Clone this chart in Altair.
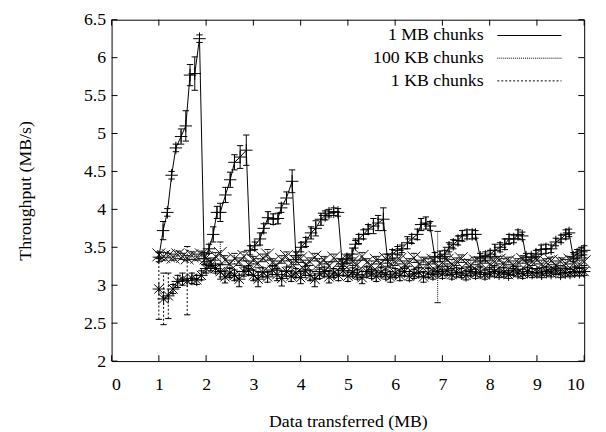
import altair as alt
import pandas as pd

FONT = "Liberation Serif, Times New Roman, Times, serif"
FS = 18

# ---------------- data ----------------
x_ticks = [0, 1, 2, 3, 4, 5, 6, 7, 8, 9, 10]
y_ticks = [2, 2.5, 3, 3.5, 4, 4.5, 5, 5.5, 6, 6.5]
legend_labels = ["1 MB chunks", "100 KB chunks", "1 KB chunks"]

x_1mb = [1.00, 1.09, 1.18, 1.27, 1.36, 1.47, 1.57, 1.66, 1.76, 1.86,
         1.96, 2.06, 2.15, 2.23, 2.30, 2.41, 2.51, 2.60, 2.72, 2.85,
         2.93, 3.03, 3.14, 3.22, 3.31, 3.42, 3.52, 3.59, 3.70, 3.82,
         3.90, 4.01, 4.11, 4.22, 4.32, 4.43, 4.52, 4.60, 4.70, 4.79,
         4.88, 4.98, 5.09, 5.16, 5.23, 5.33, 5.43, 5.54, 5.64, 5.75,
         5.84, 5.94, 6.05, 6.14, 6.26, 6.35, 6.47, 6.55, 6.65, 6.74,
         6.84, 6.95, 7.05, 7.14, 7.23, 7.33, 7.42, 7.52, 7.63, 7.70,
         7.80, 7.91, 8.01, 8.11, 8.22, 8.32, 8.41, 8.51, 8.60, 8.69,
         8.77, 8.88, 8.98, 9.09, 9.19, 9.30, 9.40, 9.51, 9.61, 9.68,
         9.77, 9.85, 9.94, 10.00]
y_1mb = [3.37, 3.72, 3.96, 4.45, 4.81, 4.96, 5.10, 5.77, 5.79, 6.25,
         3.35, 3.48, 3.67, 3.96, 3.96, 4.19, 4.39, 4.62, 4.69, 4.78,
         3.46, 3.52, 3.61, 3.75, 3.89, 3.87, 3.88, 4.02, 4.15, 4.37,
         3.39, 3.50, 3.57, 3.69, 3.75, 3.87, 3.92, 3.95, 3.97, 3.96,
         3.28, 3.35, 3.41, 3.54, 3.61, 3.67, 3.74, 3.78, 3.82, 3.87,
         3.33, 3.41, 3.46, 3.48, 3.56, 3.61, 3.67, 3.80, 3.82, 3.78,
         3.37, 3.38, 3.41, 3.50, 3.54, 3.59, 3.65, 3.67, 3.67, 3.67,
         3.37, 3.38, 3.41, 3.46, 3.50, 3.54, 3.61, 3.61, 3.67, 3.65,
         3.37, 3.37, 3.41, 3.47, 3.48, 3.48, 3.57, 3.61, 3.67, 3.69,
         3.37, 3.41, 3.44, 3.46]
e_1mb = [0.06, 0.12, 0.05, 0.05, 0.05, 0.10, 0.20, 0.14, 0.22, 0.05,
         0.08, 0.06, 0.10, 0.08, 0.12, 0.10, 0.10, 0.10, 0.15, 0.20,
         0.06, 0.05, 0.08, 0.06, 0.08, 0.07, 0.07, 0.06, 0.08, 0.15,
         0.05, 0.06, 0.06, 0.08, 0.10, 0.08, 0.06, 0.05, 0.05, 0.05,
         0.06, 0.06, 0.08, 0.05, 0.06, 0.06, 0.06, 0.10, 0.10, 0.15,
         0.08, 0.06, 0.05, 0.05, 0.08, 0.06, 0.07, 0.08, 0.08, 0.06,
         0.06, 0.07, 0.05, 0.06, 0.06, 0.06, 0.07, 0.06, 0.06, 0.05,
         0.05, 0.06, 0.05, 0.08, 0.06, 0.07, 0.06, 0.05, 0.06, 0.05,
         0.05, 0.05, 0.05, 0.06, 0.06, 0.05, 0.05, 0.05, 0.06, 0.05,
         0.06, 0.06, 0.05, 0.06]

x_grid = [1.0, 1.1, 1.2, 1.3, 1.4, 1.5, 1.6, 1.7, 1.8, 1.9,
          2.0, 2.1, 2.2, 2.3, 2.4, 2.5, 2.6, 2.7, 2.8, 2.9,
          3.0, 3.1, 3.2, 3.3, 3.4, 3.5, 3.6, 3.7, 3.8, 3.9,
          4.0, 4.1, 4.2, 4.3, 4.4, 4.5, 4.6, 4.7, 4.8, 4.9,
          5.0, 5.1, 5.2, 5.3, 5.4, 5.5, 5.6, 5.7, 5.8, 5.9,
          6.0, 6.1, 6.2, 6.3, 6.4, 6.5, 6.6, 6.7, 6.8, 6.9,
          7.0, 7.1, 7.2, 7.3, 7.4, 7.5, 7.6, 7.7, 7.8, 7.9,
          8.0, 8.1, 8.2, 8.3, 8.4, 8.5, 8.6, 8.7, 8.8, 8.9,
          9.0, 9.1, 9.2, 9.3, 9.4, 9.5, 9.6, 9.7, 9.8, 9.9,
          10.0]

y_100kb = [3.40, 3.38, 3.39, 3.37, 3.40, 3.38, 3.36, 3.39, 3.37, 3.40,
           3.36, 3.30, 3.38, 3.42, 3.33, 3.28, 3.35, 3.31, 3.38, 3.27,
           3.33, 3.29, 3.36, 3.40, 3.30, 3.26, 3.34, 3.38, 3.29, 3.32,
           3.35, 3.27, 3.31, 3.37, 3.29, 3.33, 3.25, 3.36, 3.30, 3.28,
           3.34, 3.31, 3.27, 3.38, 3.30, 3.26, 3.33, 3.29, 3.35, 3.28,
           3.31, 3.34, 3.27, 3.30, 3.36, 3.28, 3.32, 3.29, 3.33, 3.24,
           3.30, 3.33, 3.28, 3.31, 3.35, 3.29, 3.27, 3.32, 3.30, 3.34,
           3.28, 3.31, 3.33, 3.29, 3.32, 3.27, 3.30, 3.34, 3.29, 3.31,
           3.33, 3.28, 3.30, 3.32, 3.27, 3.31, 3.29, 3.33, 3.30, 3.28,
           3.31]
e_100kb = [0.04, 0.05, 0.03, 0.04, 0.05, 0.04, 0.03, 0.05, 0.04, 0.05,
           0.05, 0.06, 0.05, 0.15, 0.06, 0.05, 0.07, 0.05, 0.06, 0.05,
           0.05, 0.06, 0.05, 0.07, 0.05, 0.06, 0.05, 0.06, 0.05, 0.05,
           0.05, 0.06, 0.05, 0.05, 0.06, 0.05, 0.06, 0.05, 0.05, 0.06,
           0.05, 0.05, 0.06, 0.05, 0.05, 0.06, 0.05, 0.05, 0.06, 0.05,
           0.05, 0.06, 0.05, 0.05, 0.06, 0.05, 0.05, 0.06, 0.05, 0.47,
           0.05, 0.05, 0.06, 0.05, 0.05, 0.05, 0.06, 0.05, 0.05, 0.05,
           0.05, 0.05, 0.05, 0.06, 0.05, 0.05, 0.05, 0.05, 0.05, 0.05,
           0.05, 0.05, 0.05, 0.05, 0.05, 0.05, 0.05, 0.05, 0.05, 0.05,
           0.05]

y_1kb = [2.95, 2.82, 2.86, 2.95, 3.05, 3.08, 3.06, 3.09, 3.07, 3.13,
         3.22, 3.26, 3.22, 3.18, 3.11, 3.16, 3.13, 3.08, 3.18, 3.20,
         3.13, 3.08, 3.17, 3.11, 3.20, 3.14, 3.09, 3.18, 3.12, 3.16,
         3.10, 3.19, 3.13, 3.08, 3.15, 3.18, 3.11, 3.16, 3.13, 3.19,
         3.12, 3.17, 3.14, 3.10, 3.18, 3.15, 3.12, 3.17, 3.14, 3.11,
         3.16, 3.13, 3.18, 3.12, 3.15, 3.17, 3.11, 3.16, 3.14, 3.18,
         3.15, 3.19, 3.14, 3.17, 3.16, 3.13, 3.18, 3.15, 3.17, 3.14,
         3.16, 3.18, 3.15, 3.17, 3.14, 3.19, 3.16, 3.15, 3.18, 3.16,
         3.17, 3.15, 3.18, 3.16, 3.19, 3.15, 3.17, 3.16, 3.18, 3.17,
         3.18]
e_1kb = [0.40, 0.34, 0.30, 0.06, 0.08, 0.08, 0.45, 0.07, 0.06, 0.06,
         0.06, 0.07, 0.06, 0.10, 0.08, 0.06, 0.07, 0.10, 0.06, 0.06,
         0.07, 0.10, 0.06, 0.07, 0.06, 0.08, 0.10, 0.06, 0.07, 0.06,
         0.08, 0.06, 0.07, 0.10, 0.06, 0.06, 0.08, 0.06, 0.07, 0.06,
         0.07, 0.06, 0.06, 0.08, 0.06, 0.06, 0.07, 0.06, 0.06, 0.07,
         0.06, 0.07, 0.06, 0.06, 0.06, 0.06, 0.07, 0.06, 0.06, 0.06,
         0.06, 0.06, 0.06, 0.06, 0.06, 0.06, 0.06, 0.06, 0.06, 0.06,
         0.05, 0.06, 0.05, 0.06, 0.05, 0.06, 0.05, 0.06, 0.05, 0.06,
         0.05, 0.05, 0.05, 0.05, 0.05, 0.05, 0.05, 0.05, 0.05, 0.05,
         0.05]

# ---------------- layout ----------------
W, H = 479, 346
TICK = 6

PLUS = "M-1,0L1,0M0,-1L0,1"
CROSS = "M-1,-1L1,1M-1,1L1,-1"
STAR = "M-1,0L1,0M0,-1L0,1M-0.75,-0.75L0.75,0.75M-0.75,0.75L0.75,-0.75"
CAP = "M-1,0L1,0"

xs = alt.Scale(domain=[0, 10], nice=False, zero=False)
ys = alt.Scale(domain=[2, 6.5], nice=False, zero=False)

x_axis = alt.Axis(values=x_ticks, format="~r", grid=False, domain=False, ticks=False,
                  labelFont=FONT, labelFontSize=FS, labelPadding=15, labelColor="black",
                  title="Data transferred (MB)", titleFont=FONT, titleFontSize=FS,
                  titleFontWeight="normal", titlePadding=19, titleColor="black")
y_axis = alt.Axis(values=y_ticks, format="~r", grid=False, domain=False, ticks=False,
                  labelFont=FONT, labelFontSize=FS, labelPadding=6, labelColor="black",
                  title="Throughput (MB/s)", titleFont=FONT, titleFontSize=FS,
                  titleFontWeight="normal", titlePadding=50, titleColor="black")


def series_layers(xv, yv, ev, shape, dash, color, psize):
    df = pd.DataFrame({"x": xv, "y": yv, "e": ev})
    df["lo"] = df["y"] - df["e"]
    df["hi"] = df["y"] + df["e"]
    base = alt.Chart(df)
    X = alt.X("x:Q", scale=xs, axis=x_axis)
    line_kw = dict(color=color, strokeWidth=1)
    if dash:
        line_kw["strokeDash"] = dash
    line = base.mark_line(**line_kw).encode(x=X, y=alt.Y("y:Q", scale=ys, axis=y_axis))
    bars = base.mark_rule(**line_kw).encode(
        x=X, y=alt.Y("lo:Q", scale=ys, axis=y_axis), y2="hi:Q")
    cap_lo = base.mark_point(shape=CAP, size=42, filled=False, color=color,
                             strokeWidth=1, opacity=1).encode(
        x=X, y=alt.Y("lo:Q", scale=ys, axis=y_axis))
    cap_hi = base.mark_point(shape=CAP, size=42, filled=False, color=color,
                             strokeWidth=1, opacity=1).encode(
        x=X, y=alt.Y("hi:Q", scale=ys, axis=y_axis))
    pts = base.mark_point(shape=shape, size=psize, filled=False, color=color,
                          strokeWidth=1, opacity=1).encode(
        x=X, y=alt.Y("y:Q", scale=ys, axis=y_axis))
    return [line, bars, cap_lo, cap_hi, pts]


layers = []
layers += series_layers(x_1mb, y_1mb, e_1mb, PLUS, None, "black", 160)
layers += series_layers(x_grid, y_100kb, e_100kb, CROSS, [1, 1], "#111111", 170)
layers += series_layers(x_grid, y_1kb, e_1kb, STAR, [2, 2], "black", 160)

# inward ticks on all four sides (mirror ticks like gnuplot)
xt = alt.Chart(pd.DataFrame({"v": x_ticks}))
yt = alt.Chart(pd.DataFrame({"v": y_ticks}))
XT = alt.X("v:Q", scale=xs, axis=x_axis)
YT = alt.Y("v:Q", scale=ys, axis=y_axis)
layers.append(xt.mark_rule(color="black", strokeWidth=1).encode(
    x=XT, y=alt.value(H), y2=alt.value(H - TICK)))
layers.append(xt.mark_rule(color="black", strokeWidth=1).encode(
    x=XT, y=alt.value(0), y2=alt.value(TICK)))
layers.append(yt.mark_rule(color="black", strokeWidth=1).encode(
    y=YT, x=alt.value(0), x2=alt.value(TICK)))
layers.append(yt.mark_rule(color="black", strokeWidth=1).encode(
    y=YT, x=alt.value(W), x2=alt.value(W - TICK)))

# legend (top right, gnuplot style: text then line sample)
leg_y = [16, 39, 62]
leg_dash = [None, [1, 1], [2, 2]]
for lab, ly, dsh in zip(legend_labels, leg_y, leg_dash):
    ldf = pd.DataFrame({"label": [lab]})
    layers.append(alt.Chart(ldf).mark_text(
        align="right", baseline="middle", font=FONT, fontSize=FS, color="black"
    ).encode(text="label:N", x=alt.value(377), y=alt.value(ly)))
    kw = dict(color="black", strokeWidth=1)
    if dsh:
        kw["strokeDash"] = dsh
    layers.append(alt.Chart(ldf).mark_rule(**kw).encode(
        x=alt.value(391), x2=alt.value(456), y=alt.value(ly)))

chart = alt.layer(*layers).properties(
    width=W, height=H,
    autosize=alt.AutoSizeParams(type="none"),
    padding={"left": 105, "top": 9, "right": 14, "bottom": 69},
    background="white",
).configure_view(stroke="black", strokeWidth=1)

chart.save("out.html", embed_options={"renderer": "svg", "actions": False})
